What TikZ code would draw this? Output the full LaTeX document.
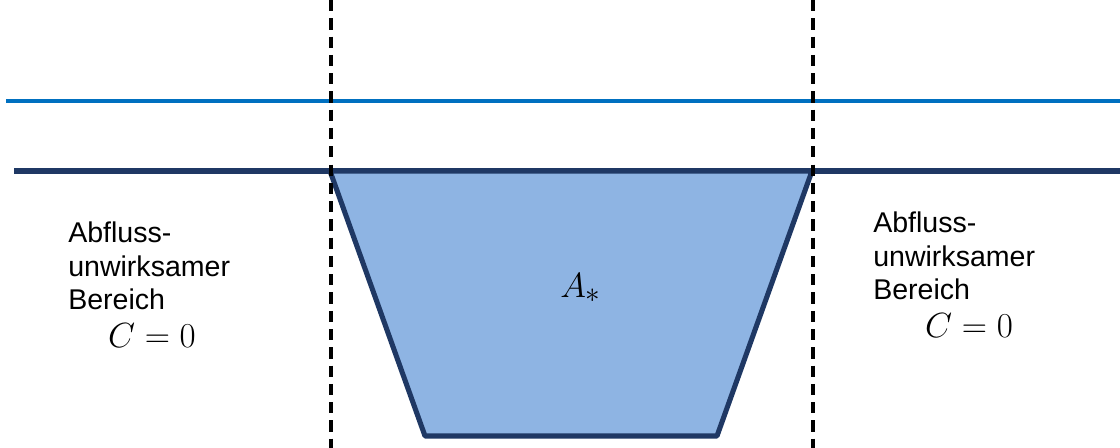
\documentclass[tikz,border=0pt]{standalone}
\usepackage{amsmath}
\usepackage{fontspec}
\setmainfont{Liberation Sans}
\usetikzlibrary{positioning,calc}
\definecolor{surfblue}{RGB}{0,112,192}
\definecolor{navy}{RGB}{31,56,100}
\definecolor{areafill}{RGB}{142,180,227}

\begin{document}
\begin{tikzpicture}[x=0.025cm,y=-0.025cm,
  lbl/.style={inner sep=0pt,align=left,font=\fontsize{20.3}{23.5}\selectfont},
  mlbl/.style={inner sep=0pt,font=\fontsize{23}{28}\selectfont},
  bound/.style={black,line width=2.2pt,dash pattern=on 8pt off 5pt}]
  \useasboundingbox (0,0) rectangle (1120,448);
  % water levels
  \coordinate (wl) at (6,101);   \coordinate (wr) at (1120,101);
  \coordinate (gl) at (14,171);  \coordinate (gr) at (1120,171);
  \draw[surfblue,line width=2.8pt] (wl) -- (wr);
  \draw[navy,line width=3.6pt] (gl) -- (gr);
  % flow cross section
  \coordinate (tl) at (330,171); \coordinate (tr) at (812,171);
  \coordinate (br) at (717,436); \coordinate (bl) at (425,436);
  \filldraw[fill=areafill,draw=navy,line width=3.6pt,line join=round]
    (tl) -- (tr) -- (br) -- (bl) -- cycle;
  \node[font=\fontsize{29}{34}\selectfont,inner sep=0pt,anchor=base west] (area) at (560,297) {$A_*$};
  % limits of the active zone
  \coordinate (dl0) at (331,0); \coordinate (dl1) at (331,448);
  \coordinate (dr0) at (813,0); \coordinate (dr1) at (813,448);
  \draw[bound] (dl0) -- (dl1);
  \draw[bound] (dr0) -- (dr1);
  % inactive zones
  \node[lbl,anchor=north west] (lefttxt) at (68,222) {Abfluss-\\unwirksamer\\Bereich};
  \node[mlbl,anchor=base] (leftc) at (152,347) {$C=0$};
  \node[lbl,anchor=north west] (righttxt) at (873,212) {Abfluss-\\unwirksamer\\Bereich};
  \node[mlbl,anchor=base] (rightc) at (969,337) {$C=0$};
\end{tikzpicture}
\end{document}
